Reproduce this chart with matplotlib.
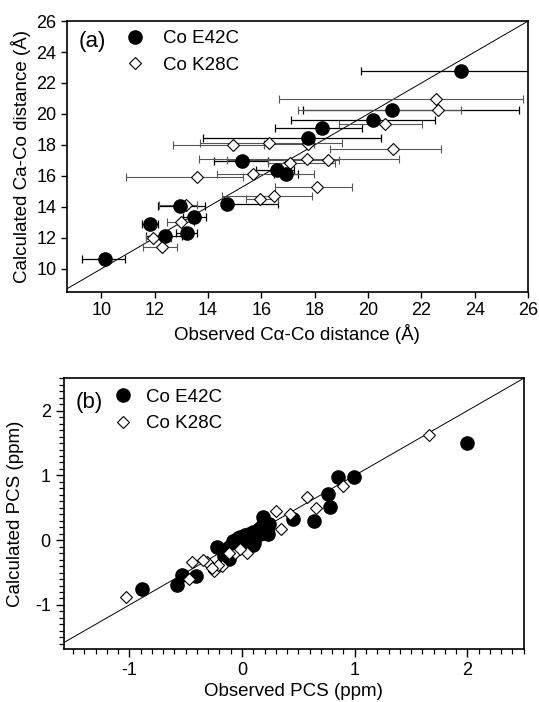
import numpy as np
import matplotlib
matplotlib.use('Agg')
from matplotlib import pyplot as plt
from matplotlib.ticker import MultipleLocator

plt.rcParams['font.family'] = ['Liberation Sans', 'DejaVu Sans']
plt.rcParams['font.size'] = 13
plt.rcParams['axes.unicode_minus'] = False

# (a) Ca-Co distances, observed (range) vs calculated
e42_obs = [23.49, 20.91, 20.19, 18.28, 17.74, 15.27, 16.59, 16.94, 14.71, 12.94, 13.49, 11.82, 13.20, 12.37, 10.13]
e42_calc = [22.78, 20.24, 19.59, 19.08, 18.47, 16.94, 16.40, 16.14, 14.20, 14.05, 13.34, 12.87, 12.33, 12.09, 10.64]
e42_lo = [19.75, 17.56, 17.12, 16.53, 13.83, 14.23, 15.80, 16.49, 14.52, 12.13, 13.07, 11.53, 12.79, 11.69, 9.27]
e42_hi = [27.23, 25.65, 22.51, 19.79, 20.48, 16.24, 17.24, 17.37, 16.61, 13.88, 13.92, 12.12, 13.58, 13.04, 10.87]

k28_obs = [22.54, 22.64, 20.63, 20.94, 14.94, 16.28, 17.74, 17.09, 17.71, 18.50, 13.60, 15.69, 18.09, 15.96, 16.49, 13.16, 12.97, 11.95, 12.26]
k28_calc = [20.97, 20.24, 19.33, 17.76, 17.98, 18.13, 18.04, 16.83, 17.09, 17.05, 15.93, 16.14, 15.28, 14.50, 14.72, 14.09, 13.02, 12.00, 11.40]
k28_lo = [16.68, 17.39, 18.90, 18.56, 12.70, 13.70, 16.11, 16.24, 13.66, 14.71, 10.93, 14.35, 16.53, 15.42, 14.52, 12.18, 12.47, 11.66, 11.57]
k28_hi = [25.80, 23.49, 22.04, 22.74, 16.11, 19.04, 17.99, 18.75, 21.16, 18.90, 15.30, 17.99, 19.38, 16.61, 17.91, 13.60, 13.48, 12.60, 12.82]

# (b) PCS, observed vs calculated
pcs_e42_obs = [2.00, 0.85, 0.99, 0.76, 0.78, 0.64, 0.45, 0.19, 0.22, 0.16, 0.10, 0.04, -0.015, -0.07, 0.10,
               -0.22, -0.16, -0.12, -0.53, -0.41, -0.58, -0.89,
               -0.12, -0.08, -0.04, 0.00, 0.03, 0.06, 0.09, 0.12, 0.15, 0.18, 0.21, 0.24, 0.11, 0.05, 0.20, 0.23]
pcs_e42_calc = [1.505, 0.98, 0.97, 0.72, 0.52, 0.29, 0.33, 0.36, 0.18, 0.10, 0.125, 0.07, 0.05, -0.005, -0.08,
                -0.11, -0.24, -0.29, -0.53, -0.56, -0.69, -0.76,
                -0.10, -0.02, 0.03, 0.05, 0.08, 0.10, 0.06, 0.13, 0.17, 0.22, 0.20, 0.25, -0.04, -0.02, 0.12, 0.10]
pcs_k28_obs = [1.66, 0.895, 0.58, 0.66, 0.30, 0.43, 0.35, 0.04, -0.06, -0.18, -0.25, -0.31, -0.35, -0.44,
               -0.47, -1.03, -0.12, -0.015, -0.21, -0.27]
pcs_k28_calc = [1.62, 0.83, 0.66, 0.49, 0.45, 0.41, 0.18, -0.19, -0.19, -0.40, -0.47, -0.34, -0.30, -0.34,
                -0.60, -0.88, -0.19, -0.135, -0.38, -0.43]

fig = plt.figure(figsize=(5.39, 7.02), dpi=100)


def style(ax):
    ax.tick_params(direction='out', top=False, right=False, width=1, labelsize=13)
    for s in ax.spines.values():
        s.set_linewidth(1.2)


# ---- panel (a)
ax = fig.add_axes([0.1237, 0.584, 0.856, 0.386])
xo = np.array(e42_obs)
ax.errorbar(xo, e42_calc, xerr=[xo - np.array(e42_lo), np.array(e42_hi) - xo],
            fmt='none', ecolor='black', elinewidth=0.9, capsize=3, capthick=0.9, zorder=2)
xo = np.array(k28_obs)
ax.errorbar(xo, k28_calc, xerr=[xo - np.array(k28_lo), np.array(k28_hi) - xo],
            fmt='none', ecolor='#555555', elinewidth=0.8, capsize=3, capthick=0.8, zorder=2)
ln = np.array([0, 30])
ax.plot(ln, ln, color='black', lw=0.7, zorder=1)
h2, = ax.plot(k28_obs, k28_calc, 'D', ms=6.5, mfc='white', mec='black', mew=0.8, zorder=3, label='Co K28C')
h1, = ax.plot(e42_obs, e42_calc, 'o', ms=9.5, color='black', zorder=4, label='Co E42C')
ax.set_xlim(8.7, 26)
ax.set_ylim(8.5, 26)
ax.set_xticks(np.arange(10, 27, 2))
ax.set_yticks(np.arange(10, 27, 2))
ax.tick_params(length=4)
style(ax)
ax.set_xlabel('Observed C\u03b1-Co distance (\u00c5)', fontsize=13.5, labelpad=3)
ax.set_ylabel('Calculated Ca-Co distance (\u00c5)', fontsize=13.5, labelpad=4)
ax.text(0.026, 0.925, '(a)', transform=ax.transAxes, fontsize=16, va='center')
ax.legend([h1, h2], ['Co E42C', 'Co K28C'], loc='upper left', bbox_to_anchor=(0.1, 1.015),
          frameon=False, handlelength=1.0, handletextpad=1.0, labelspacing=0.5, fontsize=13.5,
          borderaxespad=0.3)

# ---- panel (b)
ax = fig.add_axes([0.1187, 0.0755, 0.853, 0.3856])
ln = np.array([-3, 3])
ax.plot(ln, ln, color='black', lw=0.7, zorder=1)
h2, = ax.plot(pcs_k28_obs, pcs_k28_calc, 'D', ms=6.5, mfc='white', mec='black', mew=0.8, zorder=3, label='Co K28C')
h1, = ax.plot(pcs_e42_obs, pcs_e42_calc, 'o', ms=9.5, color='black', zorder=2, label='Co E42C')
ax.set_xlim(-1.58, 2.5)
ax.set_ylim(-1.68, 2.5)
ax.set_xticks([-1, 0, 1, 2])
ax.set_yticks([-1, 0, 1, 2])
ax.xaxis.set_minor_locator(MultipleLocator(0.1))
ax.yaxis.set_minor_locator(MultipleLocator(0.1))
ax.tick_params(which='major', length=6)
ax.tick_params(which='minor', direction='out', length=3.5, width=0.9, top=False, right=False)
style(ax)
ax.set_xlabel('Observed PCS (ppm)', fontsize=13.5, labelpad=3)
ax.set_ylabel('Calculated PCS (ppm)', fontsize=13.5, labelpad=8)
ax.text(0.026, 0.91, '(b)', transform=ax.transAxes, fontsize=16, va='center')
ax.legend([h1, h2], ['Co E42C', 'Co K28C'], loc='upper left', bbox_to_anchor=(0.08, 1.01),
          frameon=False, handlelength=1.0, handletextpad=0.7, labelspacing=0.5, fontsize=13.5,
          borderaxespad=0.3)

fig.savefig('out.png', dpi=100)
